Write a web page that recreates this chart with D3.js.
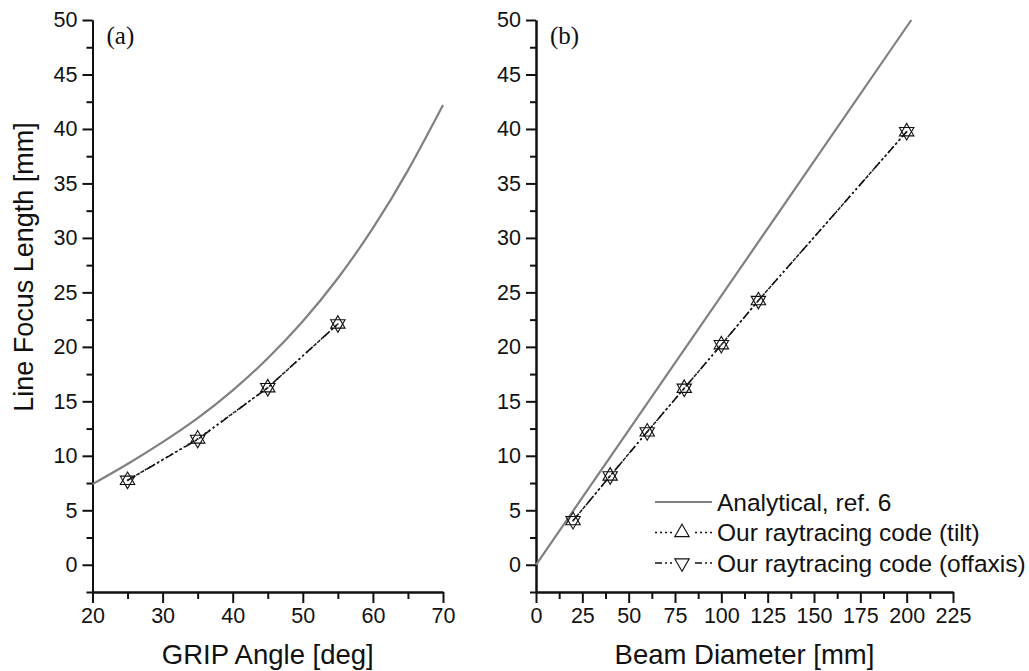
<!DOCTYPE html>
<html>
<head>
<meta charset="utf-8">
<script src="https://cdn.jsdelivr.net/npm/d3@7"></script>
<style>
  body { margin: 0; background: #fff; }
  text { font-family: "Liberation Sans", Arial, sans-serif; fill: #111; }
</style>
</head>
<body>
<div class="canvas"></div>
<script>
// ---- data ----
// (a) GRIP angle
const gripAngle = [20, 25, 30, 35, 40, 45, 50, 55, 60, 65, 70];
const gripAnalytical = [7.4, 9.25, 11.25, 13.45, 16.0, 18.95, 22.35, 26.3, 30.9, 36.2, 42.2];
const gripRayAngle = [25, 35, 45, 55];
const gripTilt = [7.75, 11.55, 16.25, 22.1];
const gripOffaxis = [7.75, 11.5, 16.25, 22.1];

// (b) beam diameter
const beamDiam = [0, 202.5];
const beamAnalytical = [0, 50];
const beamRayDiam = [20, 40, 60, 80, 100, 120, 200];
const beamTilt = [4.05, 8.15, 12.2, 16.2, 20.2, 24.25, 39.75];
const beamOffaxis = [4.05, 8.15, 12.2, 16.2, 20.2, 24.25, 39.75];

const yTicks = [0, 5, 10, 15, 20, 25, 30, 35, 40, 45, 50];
const xTicksA = [20, 30, 40, 50, 60, 70];
const xTicksB = [0, 25, 50, 75, 100, 125, 150, 175, 200, 225];
const legendLabels = ['Analytical, ref. 6', 'Our raytracing code (tilt)', 'Our raytracing code (offaxis)'];

const svg = d3.select('.canvas')
  .append('svg')
    .attr('width', 1029)
    .attr('height', 671);

const plotTop = 20, plotBottom = 592;
const gray = '#808080';
const tiltDash = '2,3';
const offDash = '9,3,2,3,2,3';

function panel(opt) {
  const x = d3.scaleLinear().domain(opt.xDomain).range(opt.xRange);
  const y = d3.scaleLinear().domain([-2.5, 50]).range([plotBottom, plotTop]);
  const g = svg.append('g');

  // minor ticks first, then major with labels
  const yMinor = d3.range(-2.5, 50, 5);
  g.append('g')
    .attr('transform', `translate(${opt.xRange[0]},0)`)
    .call(d3.axisLeft(y).tickValues(yMinor).tickSize(6).tickSizeOuter(0).tickFormat(''));
  g.append('g')
    .attr('transform', `translate(${opt.xRange[0]},0)`)
    .call(d3.axisLeft(y).tickValues(yTicks).tickSize(10).tickSizeOuter(0).tickPadding(5));

  g.append('g')
    .attr('transform', `translate(0,${plotBottom})`)
    .call(d3.axisBottom(x).tickValues(opt.xMinor).tickSize(7).tickSizeOuter(0).tickFormat(''));
  g.append('g')
    .attr('transform', `translate(0,${plotBottom})`)
    .call(d3.axisBottom(x).tickValues(opt.xTicks).tickSize(11).tickSizeOuter(0).tickPadding(5));

  g.selectAll('.domain, .tick line').attr('stroke', '#111').attr('stroke-width', 2);
  g.selectAll('.tick text').style('font-size', '21.5px').attr('fill', '#111');

  // analytical curve
  const line = d3.line().x(d => x(d[0])).y(d => y(d[1])).curve(d3.curveNatural);
  g.append('path')
    .datum(d3.zip(opt.ax, opt.ay))
    .attr('d', line)
    .attr('fill', 'none')
    .attr('stroke', gray)
    .attr('stroke-width', 2.2);

  const straight = d3.line().x(d => x(d[0])).y(d => y(d[1]));
  g.append('path')
    .datum(d3.zip(opt.rx, opt.tilt))
    .attr('d', straight)
    .attr('fill', 'none').attr('stroke', '#111').attr('stroke-width', 1.4)
    .attr('stroke-dasharray', tiltDash);
  g.append('path')
    .datum(d3.zip(opt.rx, opt.off))
    .attr('d', straight)
    .attr('fill', 'none').attr('stroke', '#111').attr('stroke-width', 1.6)
    .attr('stroke-dasharray', offDash);

  const tri = d3.symbol().type(d3.symbolTriangle).size(90);
  g.selectAll('.up')
    .data(d3.zip(opt.rx, opt.tilt))
    .enter().append('path')
      .attr('d', tri)
      .attr('transform', d => `translate(${x(d[0])},${y(d[1])})`)
      .attr('fill', 'none').attr('stroke', '#111').attr('stroke-width', 1.1);
  g.selectAll('.down')
    .data(d3.zip(opt.rx, opt.off))
    .enter().append('path')
      .attr('d', tri)
      .attr('transform', d => `translate(${x(d[0])},${y(d[1])}) rotate(180)`)
      .attr('fill', 'none').attr('stroke', '#111').attr('stroke-width', 1.1);
  g.selectAll('.dot')
    .data(d3.zip(opt.rx, opt.tilt))
    .enter().append('circle')
      .attr('cx', d => x(d[0])).attr('cy', d => y(d[1])).attr('r', 0.9)
      .attr('fill', '#333');

  // labels
  g.append('text')
    .attr('x', opt.xRange[0] + 14).attr('y', 44)
    .style('font-family', '"Liberation Serif", "Times New Roman", serif')
    .style('font-size', '25px')
    .text(opt.tag);
  g.append('text')
    .attr('x', (opt.xRange[0] + opt.xRange[1]) / 2).attr('y', 664)
    .attr('text-anchor', 'middle')
    .style('font-size', '27.5px')
    .text(opt.xTitle);

  return { x, y, g };
}

panel({
  xDomain: [20, 70], xRange: [92.5, 443],
  xTicks: xTicksA, xMinor: d3.range(25, 70, 10),
  ax: gripAngle, ay: gripAnalytical,
  rx: gripRayAngle, tilt: gripTilt, off: gripOffaxis,
  tag: '(a)', xTitle: 'GRIP Angle [deg]'
});

panel({
  xDomain: [0, 225], xRange: [536, 953],
  xTicks: xTicksB, xMinor: d3.range(12.5, 225, 25),
  ax: beamDiam, ay: beamAnalytical,
  rx: beamRayDiam, tilt: beamTilt, off: beamOffaxis,
  tag: '(b)', xTitle: 'Beam Diameter [mm]'
});

// y title
svg.append('text')
  .attr('transform', 'translate(33,267) rotate(-90)')
  .attr('text-anchor', 'middle')
  .style('font-size', '27px')
  .text('Line Focus Length [mm]');

// legend
const legend = svg.append('g').attr('transform', 'translate(655,502)');
const rows = legend.selectAll('g')
  .data(legendLabels)
  .enter().append('g')
    .attr('transform', (d, i) => `translate(0,${i * 30.5})`);

rows.append('line')
  .attr('x1', 0).attr('x2', 57).attr('y1', 0).attr('y2', 0)
  .attr('stroke', (d, i) => i === 0 ? gray : '#111')
  .attr('stroke-width', (d, i) => i === 0 ? 2.2 : 1.4)
  .attr('stroke-dasharray', (d, i) => i === 0 ? null : (i === 1 ? tiltDash : '7,3,2,3,2,3'));

rows.filter((d, i) => i > 0).append('rect')
  .attr('x', 18).attr('y', -9).attr('width', 19).attr('height', 18)
  .attr('fill', '#fff');
rows.filter((d, i) => i > 0).append('path')
  .attr('d', d3.symbol().type(d3.symbolTriangle).size(90))
  .attr('transform', (d, i) => i === 0 ? 'translate(27,0)' : 'translate(27,0) rotate(180)')
  .attr('fill', 'none').attr('stroke', '#111').attr('stroke-width', 1.1);

rows.append('text')
  .attr('x', 62).attr('y', 8.5)
  .style('font-size', '24.5px')
  .text(d => d);
</script>
</body>
</html>
